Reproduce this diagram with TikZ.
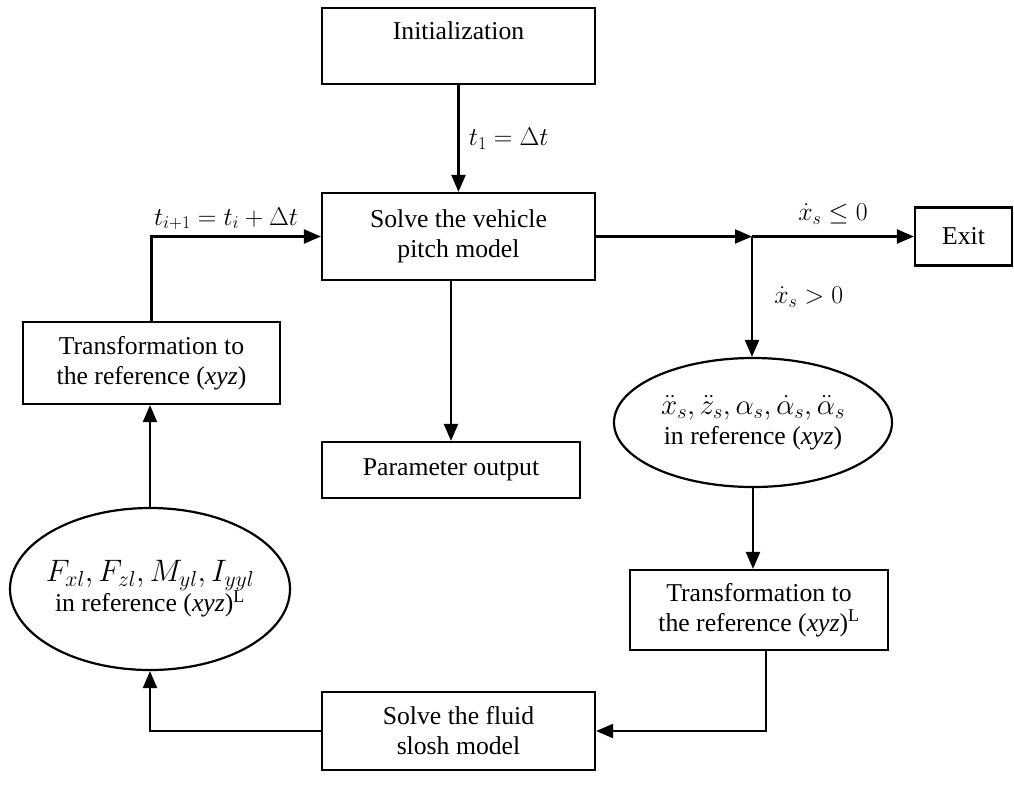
\RequirePackage{fix-cm}
\documentclass[tikz,border=0pt]{standalone}
\usepackage{amsmath}
\usepackage{fontspec}
\setmainfont{Liberation Serif}
\usepackage{tikz}
\usetikzlibrary{arrows.meta,shapes.geometric}

\begin{document}
\begin{tikzpicture}[x=1pt, y=-1pt, line width=2.2pt,
  font=\fontsize{25.7}{30}\selectfont,
  box/.style={draw, rectangle, align=center, inner sep=2pt},
  oval/.style={draw, ellipse, align=center, inner sep=0pt},
  flow/.style={-{Triangle[length=17pt,width=14pt]}}]

\useasboundingbox (0,0) rectangle (1014,793);

\node[box, minimum width=273pt, minimum height=76pt] (init) at (458.5,46) {Initialization\\[-8pt] \strut};
\node[box, minimum width=273pt, minimum height=87pt] (solve) at (458.5,236.5) {Solve the vehicle\\pitch model};
\node[box, minimum width=258pt, minimum height=56pt] (param) at (451,470) {Parameter output};
\node[box, minimum width=97pt, minimum height=58pt] (exit) at (963.5,236.5) {Exit};
\node[oval, minimum width=278pt, minimum height=129pt] (accel) at (753,422.5)
  {{\fontsize{29}{32}\selectfont$\ddot{x}_s,\ddot{z}_s,\alpha_s,\dot{\alpha}_s,\ddot{\alpha}_s$}\\in reference (\textit{xyz})};
\node[box, minimum width=258pt, minimum height=80pt] (toliq) at (759,610)
  {Transformation to\\the reference (\textit{xyz})$^{\mathrm{L}}$};
\node[box, minimum width=273pt, minimum height=78pt] (slosh) at (458.5,731) {Solve the fluid\\slosh model};
\node[oval, inner sep=-14pt, minimum width=280pt, minimum height=162pt] (loads) at (150,589)
  {{\fontsize{31}{38}\selectfont$F_{xl},F_{zl},M_{yl},I_{yyl}$}\\in reference (\textit{xyz})$^{\mathrm{L}}$};
\node[box, minimum width=257pt, minimum height=82pt] (toveh) at (151.5,363)
  {Transformation to\\the reference (\textit{xyz})};

\coordinate (split) at (752,236.5);

\draw[flow] (init) -- (solve) node[midway, right=6pt] {$t_1=\Delta t$};
\draw[flow] (toveh.north) |- (solve.west) node[pos=0.72, above=2pt] {$t_{i+1}=t_i+\Delta t$};
\draw[flow] (param.north |- solve.south) -- (param.north);
\draw[flow] (solve.east) -- (split);
\draw[flow] (split) -- (exit.west) node[midway, above=8pt] {$\dot{x}_s\leq 0$};
\draw[flow] (split) -- (split |- accel.north) node[midway, right=18pt] {$\dot{x}_s>0$};
\draw[flow] (accel.south) -- (accel.south |- toliq.north);
\draw[flow] ([xshift=7pt]toliq.south) |- (slosh.east);
\draw[flow] (slosh.west) -| (loads.south);
\draw[flow] (loads.north) -- (loads.north |- toveh.south);

\end{tikzpicture}
\end{document}
